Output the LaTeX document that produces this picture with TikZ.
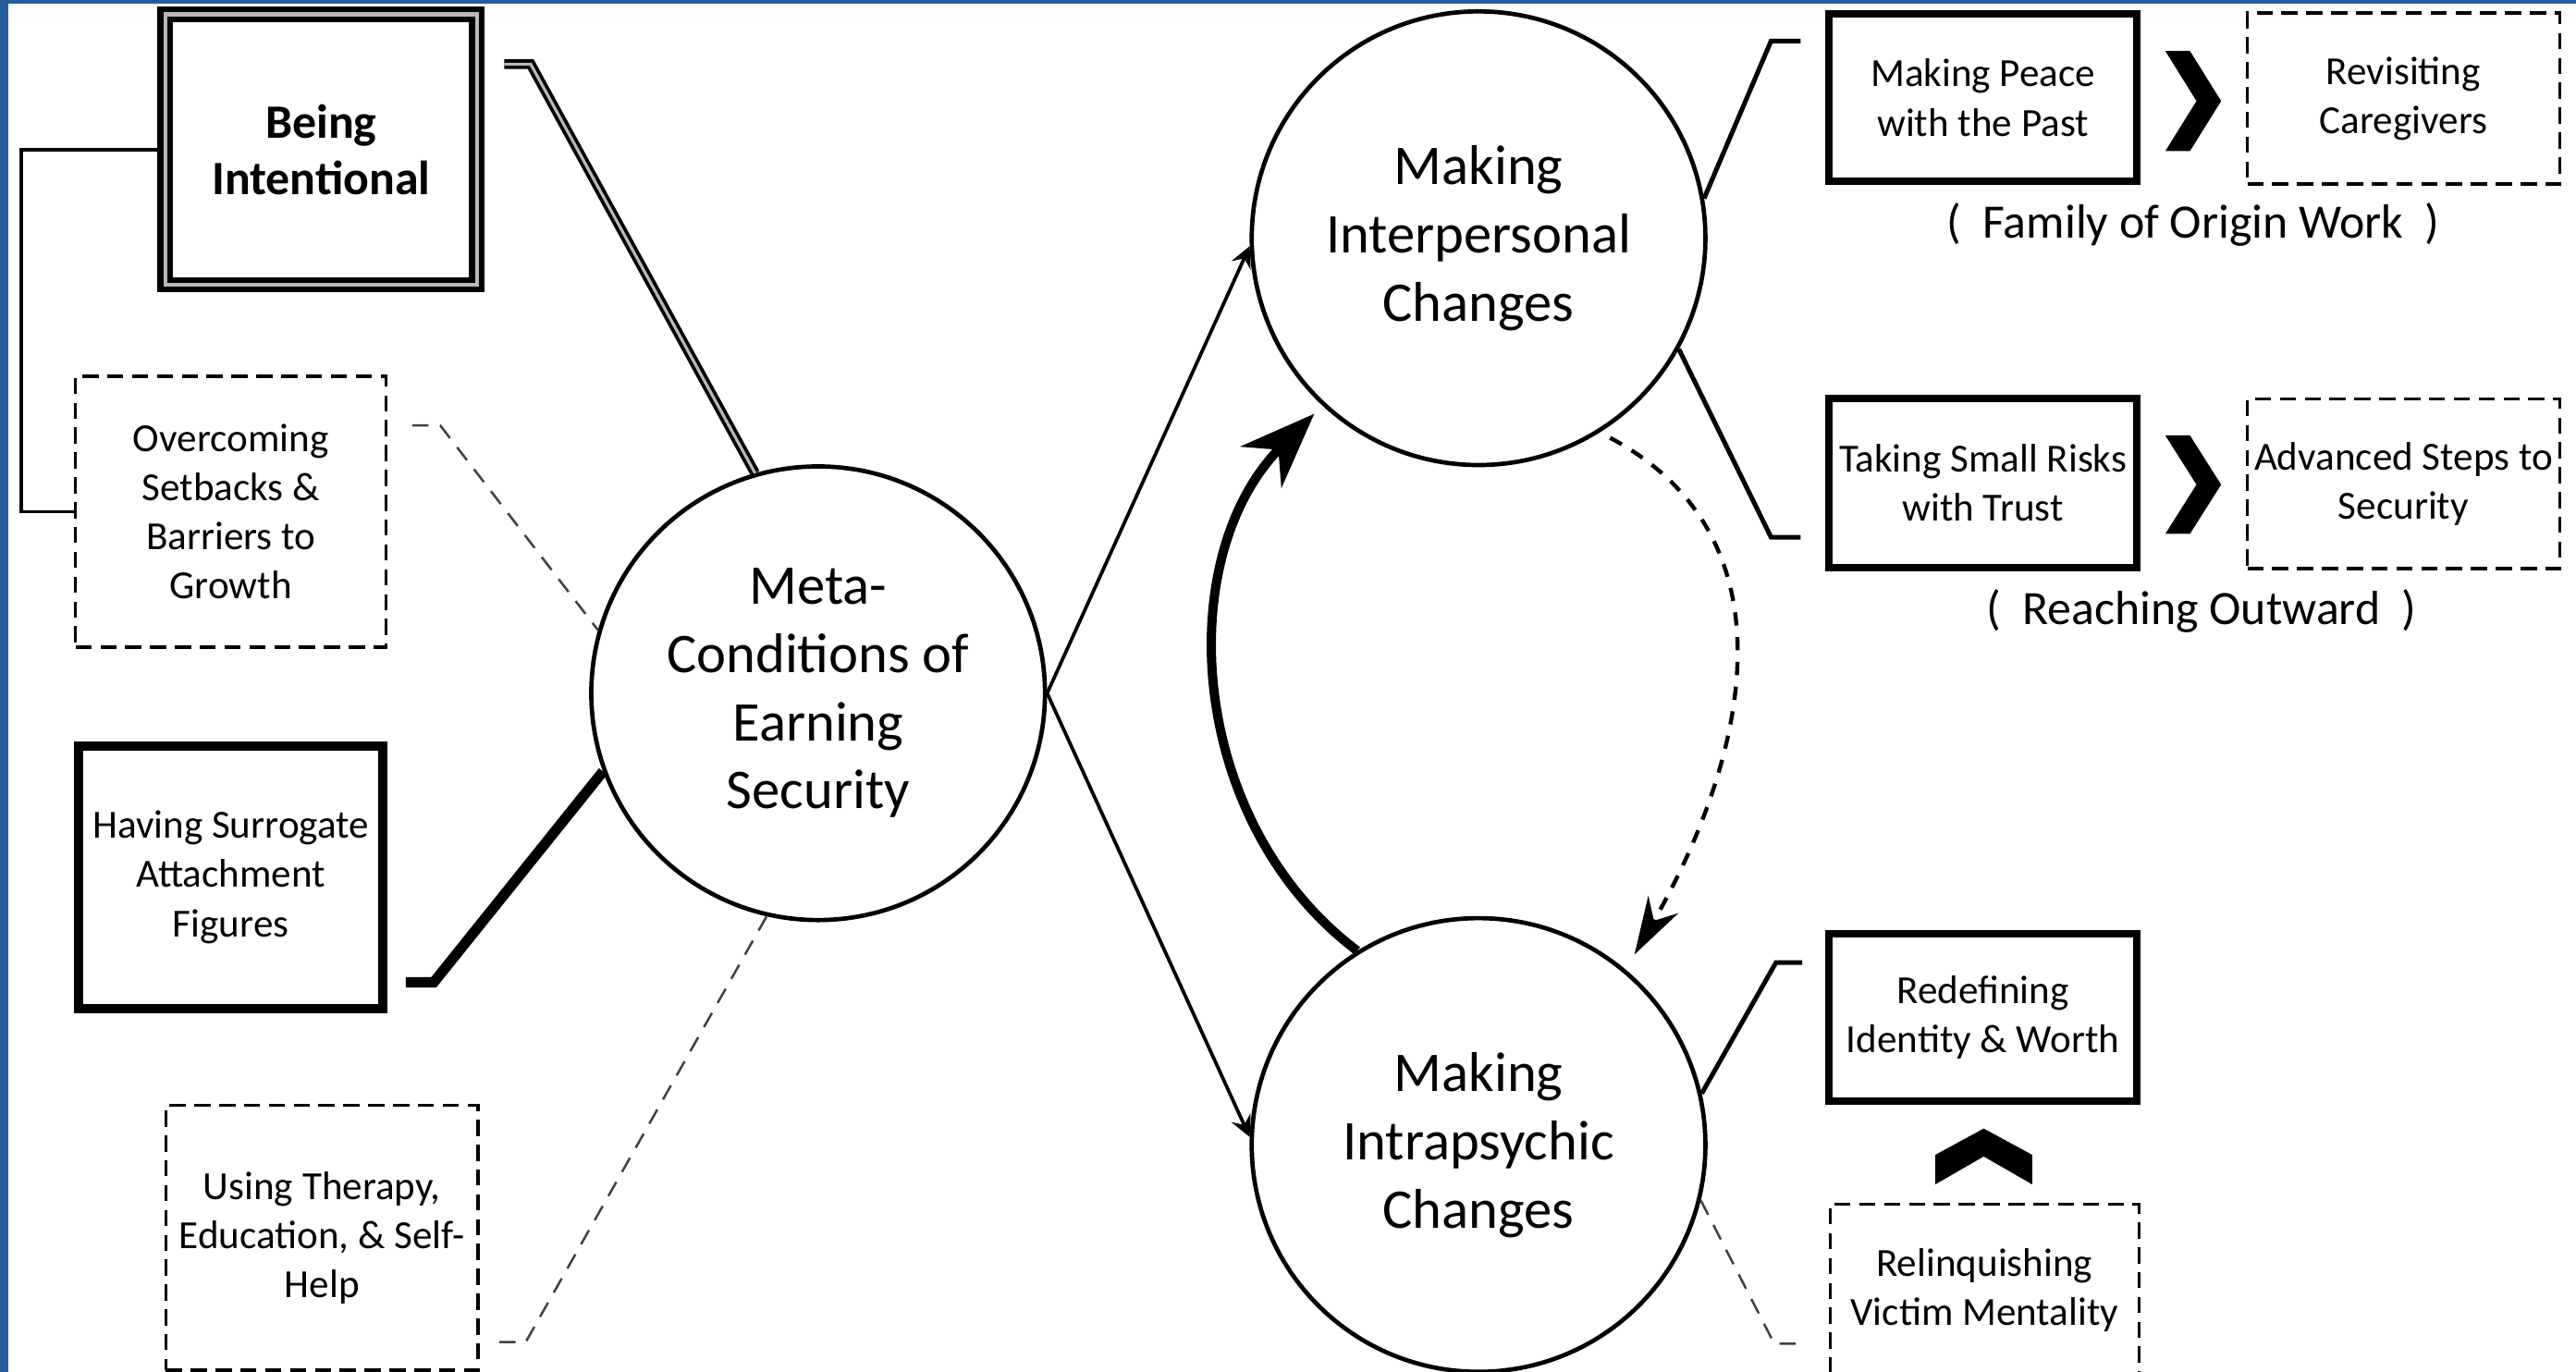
\documentclass[tikz,border=0pt]{standalone}
\usepackage{fontspec}
\setmainfont{Carlito}
\usepackage{tikz}
\usetikzlibrary{arrows.meta}
\definecolor{frameblue}{RGB}{40,93,155}
\tikzset{%
    box/.style={draw, align=center, inner sep=0pt, font=\fontsize{6.9}{8.5}\selectfont},
    solid box/.style={box, line width=1.3pt, minimum width=1.874cm, minimum height=1.02cm},
    heavy box/.style={box, line width=1.6pt, minimum width=1.854cm, minimum height=1.6cm},
    dashed box/.style={box, line width=0.55pt, dash pattern=on 2.8pt off 1.5pt},
    double box/.style={box, line width=1pt, double=gray!55, double distance=0.7pt,
        minimum width=1.895cm, minimum height=1.645cm, font=\bfseries\fontsize{8.3}{9.7}\selectfont},
    group label/.style={inner sep=0pt, font=\fontsize{8.3}{10}\selectfont}
}

\begin{document}
\begin{tikzpicture}[x=0.01cm,y=-0.01cm,>=stealth,thick,
  main node/.style={circle,draw,line width=0.75pt,minimum size=2.76cm,inner sep=0pt,
    align=center,font=\fontsize{9.7}{11.8}\selectfont},
  link/.style={line width=0.8pt},
  thin link/.style={line width=0.4pt,draw=black!75,dash pattern=on 2.8pt off 2pt},
  double link/.style={line width=0.6pt,double=gray!55,double distance=0.5pt}]

  \useasboundingbox (0,0) rectangle (1568,835);
  \fill[frameblue] (0,0) rectangle (5,835);
  \fill[frameblue] (0,0) rectangle (1568,2.5);

  % the three circles
  \node[main node] (meta) at (498,422) {Meta-\\Conditions of\\Earning\\Security};
  \node[main node] (inter) at (900,145) {Making\\Interpersonal\\Changes};
  \node[main node] (intra) at (900,697) {Making\\Intrapsychic\\Changes};

  % left column
  \node[double box] (intent) at (195.5,91) {Being\\Intentional};
  \node[dashed box, minimum width=1.89cm, minimum height=1.65cm] (overcome) at (140.5,311.5) {Overcoming\\Setbacks \&\\Barriers to\\Growth};
  \node[heavy box] (surrogate) at (140.5,534) {Having Surrogate\\Attachment\\Figures};
  \node[dashed box, minimum width=1.9cm, minimum height=1.61cm] (therapy) at (196,753.5) {Using Therapy,\\Education, \& Self-\\Help};

  % right column
  \node[solid box] (peace) at (1207,59.5) {Making Peace\\with the Past};
  \node[dashed box, minimum width=1.9cm, minimum height=1.04cm] (revisit) at (1463,60) {Revisiting\\Caregivers};
  \node[group label] (family) at (1335,137) {(\hspace{.45em}Family of Origin Work\hspace{.45em})};
  \node[solid box, minimum height=1.03cm] (risks) at (1207,294) {Taking Small Risks\\with Trust};
  \node[dashed box, minimum width=1.9cm, minimum height=1.03cm] (advanced) at (1463,294.5) {Advanced Steps to\\Security};
  \node[group label] (reaching) at (1340,372) {(\hspace{.45em}Reaching Outward\hspace{.45em})};
  \node[solid box] (redefine) at (1207,619.5) {Redefining\\Identity \& Worth};
  \node[dashed box, minimum width=1.88cm, minimum height=1.05cm] (relinq) at (1208,785.5) {Relinquishing\\Victim Mentality};

  % chevrons
  \fill (1318,31) -- ++(15,0) -- ++(19,30.5) -- ++(-19,30.5) -- ++(-15,0) -- ++(19,-30.5) -- cycle;
  \fill (1318,265) -- ++(15,0) -- ++(19,30) -- ++(-19,30) -- ++(-15,0) -- ++(19,-30) -- cycle;
  \fill (1178,703) -- (1207.5,687) -- (1237,703) -- (1237,721) -- (1207.5,704) -- (1178,721) -- cycle;

  % free ends of the links
  \coordinate (intent tick) at (307,39);
  \coordinate (overcome tick) at (251,259);
  \coordinate (surrogate tick) at (247,598);
  \coordinate (therapy tick) at (304,817);
  \coordinate (peace tick) at (1096,25);
  \coordinate (risks tick) at (1096,327);
  \coordinate (redefine tick) at (1097,586);
  \coordinate (relinq tick) at (1098,818);

  \draw[link, line width=0.6pt] (intent.west) -- ++(-86,0) |- (overcome.west);
  \draw[double link] (intent tick) -- ++(16,0) -- (meta.106);
  \draw[thin link] (overcome tick) -- ++(17,0) -- (meta.164);
  \draw[link, line width=1.8pt] (surrogate tick) -- ++(17,0) -- (meta.200);
  \draw[thin link] (therapy tick) -- ++(16,0) -- (meta.257);

\path[line width=0.6pt]
  (meta.0) edge[->] (inter.182)
  (meta.0) edge[->] (intra.178);

  \draw[link] (inter.10) -- (1078,25) -- (peace tick);
  \draw[link] (inter.-29) -- (1078,327) -- (risks tick);
  \draw[link] (intra.13) -- (1081,586) -- (redefine tick);
  \draw[thin link] (intra.-14) -- (1080,818) -- (relinq tick);

  % the loop between the two kinds of change
  \draw[line width=1.6pt, -{Stealth[length=13pt,width=10pt]}, shorten >=2pt]
    (intra.122) to[out=143,in=225] (inter.227);
  \draw[line width=0.7pt, dash pattern=on 2.3pt off 2pt, -{Stealth[length=10pt,width=6pt]},
    shorten >=3pt, shorten <=2pt]
    (inter.302) to[out=-28,in=60,looseness=1.1] (intra.50);
\end{tikzpicture}
\end{document}
